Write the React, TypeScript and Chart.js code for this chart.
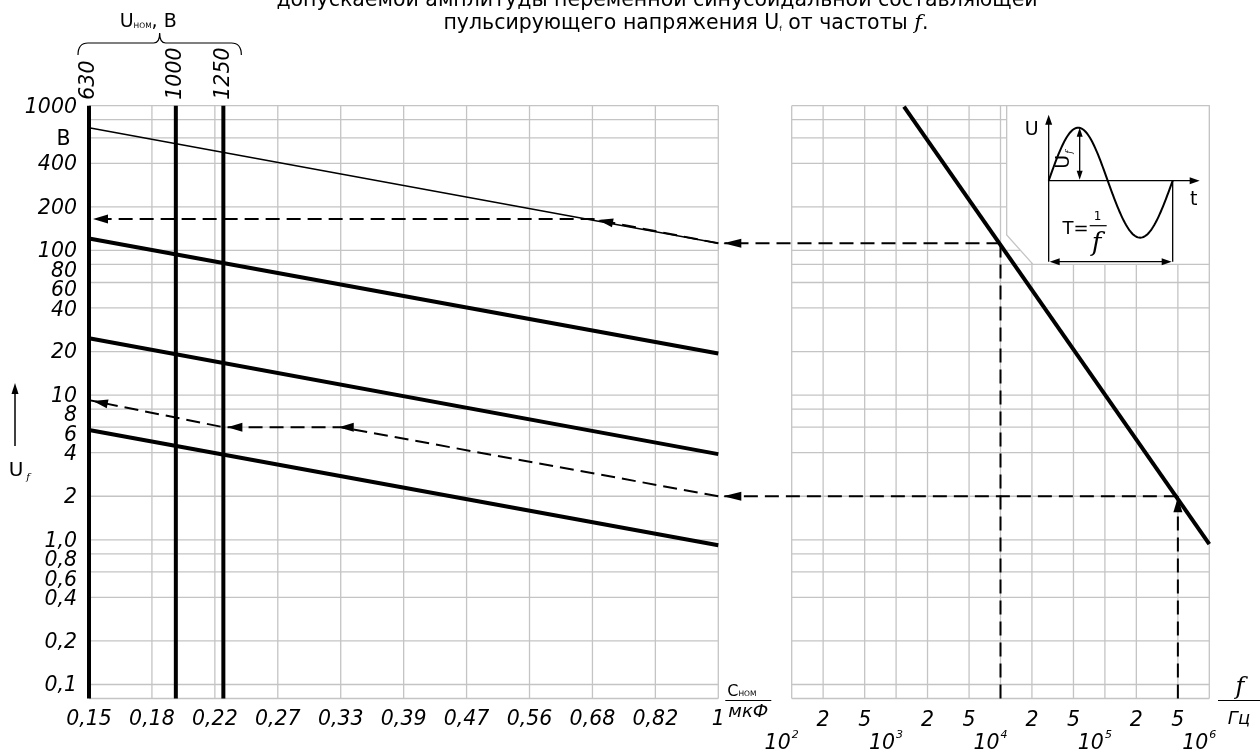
import React, { useEffect, useRef } from "react";
import { Chart, registerables } from "chart.js";

Chart.register(...registerables);

// ---------------- data ----------------
const TITLE_LINE_1 = "допускаемой амплитуды переменной синусоидальной составляющей";
const TITLE_LINE_2_A = "пульсирующего напряжения U";
const TITLE_LINE_2_SUB = "f";
const TITLE_LINE_2_B = " от частоты ";
const TITLE_LINE_2_F = "f";
const TITLE_LINE_2_END = ".";

const CAP_LABELS = ["0,15", "0,18", "0,22", "0,27", "0,33", "0,39", "0,47", "0,56", "0,68", "0,82", "1"];
const U_TICKS = [0.1, 0.2, 0.4, 0.6, 0.8, 1, 2, 4, 6, 8, 10, 20, 40, 60, 80, 100, 200, 400, 600, 800, 1000];
const U_TICK_LABELS = ["0,1", "0,2", "0,4", "0,6", "0,8", "1,0", "2", "4", "6", "8", "10", "20", "40", "60", "80", "100", "200", "400", "В ", "", "1000"];
const U_MIN = 0.08;
const U_MAX = 1000;

const UNOM_LABELS = ["630", "1000", "1250"];
const UNOM_POS = [0, 1.38, 2.135];

const THIN_LINE_U = [704, 112];
const THICK_LINE_A_U = [121, 19.4];
const THICK_LINE_B_U = [24.7, 3.91];
const THICK_LINE_C_U = [5.73, 0.918];

const F_TICKS = [1e2, 2e2, 5e2, 1e3, 2e3, 5e3, 1e4, 2e4, 5e4, 1e5, 2e5, 5e5, 1e6];
const F_TICK_LABELS = ["", "2", "5", "", "2", "5", "", "2", "5", "", "2", "5", ""];
const F_DECADE_EXP = [2, 3, 4, 5, 6];
const F_LINE_F = [1190, 1e6];
const F_LINE_U = [984, 0.933];

const EXAMPLE_F = [1e4, 5e5];
const EXAMPLE_U = [112, 2];

const UPPER_PATH_C = [10, 8, 0];
const UPPER_PATH_U = [112, 165, 165];
const LOWER_PATH_C = [10, 4, 2.135, 0];
const LOWER_PATH_U = [2, 6.0, 6.0, 9.23];

// ---------------- layout / style ----------------
const W = 1260;
const H = 756;
const PLOT_LEFT = 89;
const PLOT_RIGHT = 1209.3;
const PLOT_TOP = 105.7;
const PLOT_BOTTOM = 698.5;
const LEFT_PANEL_RIGHT = 718.3;
const RIGHT_PANEL_LEFT = 791.7;
const C_MAX_INDEX = CAP_LABELS.length - 1;
const XL_MAX = (C_MAX_INDEX * (PLOT_RIGHT - PLOT_LEFT)) / (LEFT_PANEL_RIGHT - PLOT_LEFT);
const F_DECADES = Math.log10(F_TICKS[F_TICKS.length - 1] / F_TICKS[0]);
const XR_MIN = Math.pow(
  10,
  Math.log10(F_TICKS[F_TICKS.length - 1]) - (F_DECADES * (PLOT_RIGHT - PLOT_LEFT)) / (PLOT_RIGHT - RIGHT_PANEL_LEFT)
);

const INSET_F_LEFT = 1.146e4;
const INSET_F_CHAMFER = 2.05e4;
const INSET_U_BOTTOM = 80;
const INSET_U_CHAMFER = 128;

const SANS = "'DejaVu Sans', 'Liberation Sans', Arial, sans-serif";
const SERIF = "'DejaVu Serif', 'Liberation Serif', 'Times New Roman', serif";
const NUM_FONT = `italic 20.5px ${SANS}`;
const GRID = "#c4c4c4";
const DASH = [14, 7];
const Y_LABEL_GAP = 19.5;

function arrowHead(ctx: CanvasRenderingContext2D, tx: number, ty: number, fx: number, fy: number, len = 15, half = 4.5) {
  const a = Math.atan2(ty - fy, tx - fx);
  const c = Math.cos(a);
  const s = Math.sin(a);
  ctx.beginPath();
  ctx.moveTo(tx, ty);
  ctx.lineTo(tx - len * c + half * s, ty - len * s - half * c);
  ctx.lineTo(tx - len * c - half * s, ty - len * s + half * c);
  ctx.closePath();
  ctx.fill();
}

function seg(ctx: CanvasRenderingContext2D, x1: number, y1: number, x2: number, y2: number) {
  ctx.beginPath();
  ctx.moveTo(x1, y1);
  ctx.lineTo(x2, y2);
  ctx.stroke();
}

function pts(cs: number[], us: number[]) {
  return cs.map((c, i) => ({ x: c, y: us[i] }));
}

const nomogramPlugin = {
  id: "nomogram",
  beforeDatasetsDraw(chart: any) {
    const { ctx, chartArea: ca, scales } = chart;
    const xL = scales.xL;
    const xR = scales.xR;
    const y = scales.y;
    const top = y.getPixelForValue(U_MAX);
    const bot = ca.bottom;
    ctx.save();
    ctx.strokeStyle = GRID;
    ctx.lineWidth = 1.3;
    // left panel grid
    const l0 = xL.getPixelForValue(0);
    const l1 = xL.getPixelForValue(C_MAX_INDEX);
    for (let i = 1; i <= C_MAX_INDEX; i++) {
      const px = xL.getPixelForValue(i);
      seg(ctx, px, top, px, bot);
    }
    for (const v of U_TICKS) {
      const py = y.getPixelForValue(v);
      seg(ctx, l0, py, l1, py);
    }
    seg(ctx, l0, bot, l1, bot);
    // right panel grid
    const r0 = xR.getPixelForValue(F_TICKS[0]);
    const r1 = xR.getPixelForValue(F_TICKS[F_TICKS.length - 1]);
    for (const f of F_TICKS) {
      const px = xR.getPixelForValue(f);
      seg(ctx, px, top, px, bot);
    }
    for (const v of U_TICKS) {
      const py = y.getPixelForValue(v);
      seg(ctx, r0, py, r1, py);
    }
    seg(ctx, r0, bot, r1, bot);
    // inset box
    const iL = xR.getPixelForValue(INSET_F_LEFT);
    const iC = xR.getPixelForValue(INSET_F_CHAMFER);
    const iB = y.getPixelForValue(INSET_U_BOTTOM);
    const iCy = y.getPixelForValue(INSET_U_CHAMFER);
    ctx.beginPath();
    ctx.moveTo(iL, top);
    ctx.lineTo(iL, iCy);
    ctx.lineTo(iC, iB);
    ctx.lineTo(r1, iB);
    ctx.lineTo(r1, top);
    ctx.closePath();
    ctx.fillStyle = "#fff";
    ctx.fill();
    ctx.stroke();
    ctx.restore();
  },
  afterDatasetsDraw(chart: any) {
    const { ctx, chartArea: ca, scales } = chart;
    const xL = scales.xL;
    const xR = scales.xR;
    const y = scales.y;
    const top = y.getPixelForValue(U_MAX);
    const bot = ca.bottom;
    ctx.save();
    ctx.fillStyle = "#000";
    ctx.strokeStyle = "#000";

    // voltage axis labels (placed at the scale's tick pixels, spread apart when crowded)
    {
      const items = U_TICKS.map((v, i) => ({ py: y.getPixelForValue(v), label: U_TICK_LABELS[i], v }))
        .filter((it) => it.label !== "")
        .sort((a, b) => a.py - b.py);
      let last = -Infinity;
      ctx.textAlign = "right";
      ctx.textBaseline = "middle";
      for (const it of items) {
        const py = Math.max(it.py, last + Y_LABEL_GAP);
        last = py;
        ctx.font = it.v === 600 ? `20.5px ${SANS}` : NUM_FONT;
        ctx.fillText(it.label, ca.left - 12, py + 1.5);
      }
    }

    // connectors from the frequency panel to the capacitance panel
    ctx.lineWidth = 2;
    ctx.setLineDash(DASH);
    const cEnd = xL.getPixelForValue(C_MAX_INDEX);
    EXAMPLE_F.forEach((f, i) => {
      const px = xR.getPixelForValue(f);
      const py = y.getPixelForValue(EXAMPLE_U[i]);
      seg(ctx, px, py, cEnd + 6, py);
    });
    ctx.setLineDash([]);
    EXAMPLE_F.forEach((f, i) => {
      const py = y.getPixelForValue(EXAMPLE_U[i]);
      arrowHead(ctx, cEnd + 5, py, cEnd + 40, py, 18, 4.5);
    });
    {
      const px = xR.getPixelForValue(EXAMPLE_F[1]);
      const py = y.getPixelForValue(EXAMPLE_U[1]);
      arrowHead(ctx, px, py + 1, px, py + 30, 15, 4.5);
    }
    // arrows on upper dashed path
    const up = UPPER_PATH_C.map((c, i) => [xL.getPixelForValue(c), y.getPixelForValue(UPPER_PATH_U[i])]);
    {
      const [ax, ay] = up[0];
      const [bx, by] = up[1];
      const t = 0.955;
      arrowHead(ctx, ax + (bx - ax) * t, ay + (by - ay) * t, ax, ay, 15, 4.5);
      const [ex, ey] = up[2];
      arrowHead(ctx, ex + 4, ey, ex + 40, ey, 15, 4.5);
    }
    // arrows on lower dashed path
    const lp = LOWER_PATH_C.map((c, i) => [xL.getPixelForValue(c), y.getPixelForValue(LOWER_PATH_U[i])]);
    {
      const [ax, ay] = lp[1];
      arrowHead(ctx, ax - 2, ay, ax + 30, ay, 15, 4.5);
      const [bx, by] = lp[2];
      arrowHead(ctx, bx + 4, by, bx + 40, by, 15, 4.5);
      const [ex, ey] = lp[3];
      const d = Math.hypot(bx - ex, by - ey);
      arrowHead(ctx, ex + ((bx - ex) * 4) / d, ey + ((by - ey) * 4) / d, bx, by, 15, 4.5);
    }

    // inset illustration
    const iL = xR.getPixelForValue(INSET_F_LEFT);
    const ox = iL + 42;
    const oy = top + 75;
    ctx.lineWidth = 1.3;
    seg(ctx, ox, oy + 81, ox, top + 14);
    arrowHead(ctx, ox, top + 9, ox, oy, 10, 3.5);
    seg(ctx, ox, oy, ox + 146, oy);
    arrowHead(ctx, ox + 151, oy, ox, oy, 10, 3.5);
    seg(ctx, ox + 124, oy, ox + 124, oy + 81);
    seg(ctx, ox + 6, oy + 81, ox + 118, oy + 81);
    arrowHead(ctx, ox + 1, oy + 81, ox + 124, oy + 81, 10, 3.5);
    arrowHead(ctx, ox + 123, oy + 81, ox, oy + 81, 10, 3.5);
    seg(ctx, ox + 31, oy - 47, ox + 31, oy - 6);
    arrowHead(ctx, ox + 31, oy - 53, ox + 31, oy, 9, 3);
    arrowHead(ctx, ox + 31, oy - 1, ox + 31, oy - 53, 9, 3);
    ctx.lineWidth = 2;
    ctx.beginPath();
    for (let k = 0; k <= 120; k++) {
      const t = k / 120;
      let px: number;
      let py: number;
      if (t <= 0.5) {
        px = ox + (t / 0.5) * 59;
        py = oy - 53 * Math.sin((Math.PI * t) / 0.5);
      } else {
        px = ox + 59 + ((t - 0.5) / 0.5) * 65;
        py = oy + 57 * Math.sin((Math.PI * (t - 0.5)) / 0.5);
      }
      if (k === 0) ctx.moveTo(px, py);
      else ctx.lineTo(px, py);
    }
    ctx.stroke();
    ctx.textBaseline = "alphabetic";
    ctx.textAlign = "center";
    ctx.font = `19px ${SANS}`;
    ctx.fillText("U", ox - 17, oy - 46);
    ctx.fillText("t", ox + 145, oy + 24);
    ctx.save();
    ctx.translate(ox + 20, oy - 12);
    ctx.rotate(-Math.PI / 2);
    ctx.textAlign = "left";
    ctx.font = `19px ${SANS}`;
    ctx.fillText("U", 0, 0);
    const uw = ctx.measureText("U").width;
    ctx.font = `italic 9px ${SERIF}`;
    ctx.fillText("f", uw + 1, 3);
    ctx.restore();
    ctx.font = `18px ${SANS}`;
    ctx.textAlign = "right";
    ctx.fillText("T=", ox + 40, oy + 53);
    ctx.textAlign = "center";
    ctx.font = `12px ${SANS}`;
    ctx.fillText("1", ox + 49, oy + 39);
    ctx.lineWidth = 1.2;
    seg(ctx, ox + 41, oy + 45, ox + 58, oy + 45);
    ctx.font = `italic 26px ${SERIF}`;
    ctx.fillText("f", ox + 48, oy + 70);

    // rotated nominal-voltage labels + brace
    ctx.font = NUM_FONT;
    UNOM_LABELS.forEach((lab, i) => {
      const px = xL.getPixelForValue(UNOM_POS[i]);
      ctx.save();
      ctx.translate(px, top - 6);
      ctx.rotate(-Math.PI / 2);
      ctx.textAlign = "left";
      ctx.textBaseline = "middle";
      ctx.fillText(lab, 0, 0);
      ctx.restore();
    });
    {
      const bl = xL.getPixelForValue(UNOM_POS[0]) - 11;
      const br = xL.getPixelForValue(UNOM_POS[2]) + 18;
      const bm = (bl + br) / 2;
      const yArm = 43;
      ctx.lineWidth = 1.2;
      ctx.beginPath();
      ctx.moveTo(bl, 55);
      ctx.quadraticCurveTo(bl, yArm, bl + 10, yArm);
      ctx.lineTo(bm - 6, yArm);
      ctx.quadraticCurveTo(bm, yArm, bm, 33);
      ctx.quadraticCurveTo(bm, yArm, bm + 6, yArm);
      ctx.lineTo(br - 10, yArm);
      ctx.quadraticCurveTo(br, yArm, br, 55);
      ctx.stroke();
      ctx.textAlign = "left";
      ctx.textBaseline = "alphabetic";
      ctx.font = `19px ${SANS}`;
      const x0 = bm - 40;
      ctx.fillText("U", x0, 27);
      const w1 = ctx.measureText("U").width;
      ctx.font = `7.5px ${SANS}`;
      ctx.fillText("НОМ", x0 + w1, 28);
      const w2 = ctx.measureText("НОМ").width;
      ctx.font = `19px ${SANS}`;
      ctx.fillText(", В", x0 + w1 + w2, 27);
    }

    // U_f vertical axis caption
    ctx.lineWidth = 1.5;
    seg(ctx, 15, 446, 15, 390);
    arrowHead(ctx, 15, 383, 15, 446, 11, 3.5);
    ctx.textAlign = "center";
    ctx.font = `20px ${SANS}`;
    ctx.fillText("U", 16, 476);
    ctx.font = `italic 10px ${SERIF}`;
    ctx.fillText("f", 28, 480);

    // capacitance unit caption
    {
      const x0 = cEnd + 7;
      ctx.textAlign = "left";
      ctx.font = `16px ${SANS}`;
      ctx.fillText("C", x0 + 2, 696);
      const cw = ctx.measureText("C").width;
      ctx.font = `7.5px ${SANS}`;
      ctx.fillText("НОМ", x0 + 2 + cw, 696);
      ctx.lineWidth = 1;
      seg(ctx, x0, 700.5, x0 + 46, 700.5);
      ctx.textAlign = "center";
      ctx.font = `italic 18px ${SANS}`;
      ctx.fillText("мкФ", x0 + 23, 717);
    }
    // frequency unit caption
    {
      const x0 = W - 42;
      ctx.textAlign = "center";
      ctx.font = `italic 24px ${SERIF}`;
      ctx.fillText("f", x0 + 22, 694);
      ctx.lineWidth = 1;
      seg(ctx, x0, 700.5, W, 700.5);
      ctx.font = `italic 18px ${SANS}`;
      ctx.fillText("Гц", x0 + 21, 724);
    }

    // frequency axis labels
    ctx.font = NUM_FONT;
    ctx.textAlign = "center";
    ctx.textBaseline = "middle";
    F_TICKS.forEach((f, i) => {
      if (!F_TICK_LABELS[i]) return;
      ctx.fillText(F_TICK_LABELS[i], xR.getPixelForValue(f), bot + 22);
    });
    ctx.textBaseline = "alphabetic";
    F_DECADE_EXP.forEach((e) => {
      const px = xR.getPixelForValue(Math.pow(10, e)) - 1;
      ctx.font = NUM_FONT;
      ctx.textAlign = "right";
      ctx.fillText("10", px, bot + 50);
      ctx.font = `italic 11px ${SANS}`;
      ctx.textAlign = "left";
      ctx.fillText(String(e), px + 1, bot + 39);
    });

    // title
    ctx.textAlign = "center";
    ctx.textBaseline = "alphabetic";
    ctx.font = `20.5px ${SANS}`;
    ctx.fillText(TITLE_LINE_1, 657, 6);
    {
      const parts: [string, string, number][] = [
        [TITLE_LINE_2_A, `20.5px ${SANS}`, 0],
        [TITLE_LINE_2_SUB, `7px ${SANS}`, 2],
        [TITLE_LINE_2_B, `20.5px ${SANS}`, 0],
        [TITLE_LINE_2_F, `italic 21px ${SERIF}`, 0],
        [TITLE_LINE_2_END, `20.5px ${SANS}`, 0],
      ];
      let total = 0;
      for (const [t, f] of parts) {
        ctx.font = f;
        total += ctx.measureText(t).width;
      }
      let x = 686 - total / 2;
      ctx.textAlign = "left";
      for (const [t, f, dy] of parts) {
        ctx.font = f;
        ctx.fillText(t, x, 29 + dy);
        x += ctx.measureText(t).width;
      }
    }
    ctx.restore();
  },
};

function solid(data: { x: number; y: number }[], xAxisID: string, width: number) {
  return {
    data,
    xAxisID,
    yAxisID: "y",
    borderColor: "#000",
    backgroundColor: "#000",
    borderWidth: width,
    pointRadius: 0,
    fill: false,
    tension: 0,
    clip: false,
  };
}

function dashed(data: { x: number; y: number }[], xAxisID: string) {
  return { ...solid(data, xAxisID, 2), borderDash: DASH };
}

export default function App() {
  const ref = useRef<HTMLCanvasElement | null>(null);
  useEffect(() => {
    const canvas = ref.current;
    if (!canvas) return;
    const datasets: any[] = [
      ...UNOM_POS.map((c) => solid([{ x: c, y: U_MIN }, { x: c, y: U_MAX }], "xL", 4)),
      solid(pts([0, C_MAX_INDEX], THIN_LINE_U), "xL", 1.5),
      solid(pts([0, C_MAX_INDEX], THICK_LINE_A_U), "xL", 4),
      solid(pts([0, C_MAX_INDEX], THICK_LINE_B_U), "xL", 4),
      solid(pts([0, C_MAX_INDEX], THICK_LINE_C_U), "xL", 4),
      dashed(pts(UPPER_PATH_C, UPPER_PATH_U), "xL"),
      dashed(pts(LOWER_PATH_C, LOWER_PATH_U), "xL"),
      solid(pts(F_LINE_F, F_LINE_U), "xR", 4),
      ...EXAMPLE_F.map((f, i) => dashed([{ x: f, y: U_MIN }, { x: f, y: EXAMPLE_U[i] }], "xR")),
    ];
    const chart = new Chart(canvas, {
      type: "line",
      data: { datasets },
      plugins: [nomogramPlugin],
      options: {
        responsive: false,
        maintainAspectRatio: false,
        animation: false,
        devicePixelRatio: 1,
        layout: { padding: { top: PLOT_TOP, right: W - PLOT_RIGHT, left: 0, bottom: 0 } },
        plugins: { legend: { display: false }, tooltip: { enabled: false }, title: { display: false } },
        events: [],
        scales: {
          xL: {
            type: "linear",
            position: "bottom",
            bounds: "data",
            min: 0,
            max: XL_MAX,
            afterBuildTicks: (s: any) => {
              s.ticks = CAP_LABELS.map((_, i) => ({ value: i }));
            },
            afterFit: (s: any) => {
              s.height = H - PLOT_BOTTOM;
            },
            grid: { display: false, drawTicks: false },
            border: { display: false },
            ticks: {
              autoSkip: false,
              maxRotation: 0,
              padding: 9,
              color: "#000",
              font: { family: SANS, size: 20.5, style: "italic" },
              callback: (_v: any, i: number) => CAP_LABELS[i],
            },
          },
          xR: {
            type: "logarithmic",
            display: false,
            bounds: "data",
            min: XR_MIN,
            max: F_TICKS[F_TICKS.length - 1],
          },
          y: {
            type: "logarithmic",
            position: "left",
            bounds: "data",
            min: U_MIN,
            max: U_MAX,
            afterBuildTicks: (s: any) => {
              s.ticks = U_TICKS.map((v) => ({ value: v }));
            },
            afterFit: (s: any) => {
              s.width = PLOT_LEFT;
            },
            grid: { display: false, drawTicks: false },
            border: { display: false },
            ticks: { display: false },
          },
        } as any,
      } as any,
    });
    return () => chart.destroy();
  }, []);
  return (
    <div style={{ position: "absolute", left: 0, top: 0, width: W, height: H, background: "#fff" }}>
      <canvas ref={ref} width={W} height={H} style={{ display: "block", width: W, height: H }} />
    </div>
  );
}
